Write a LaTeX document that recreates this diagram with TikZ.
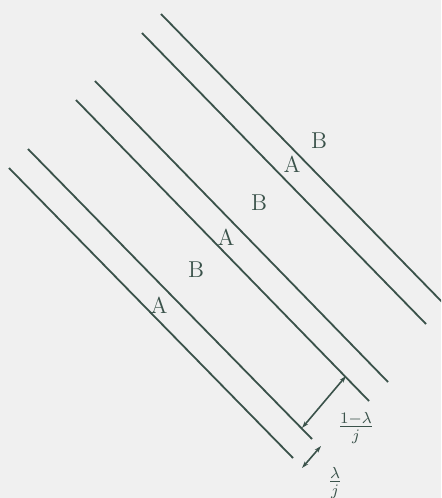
\documentclass[tikz,border=0pt]{standalone}
\usetikzlibrary{arrows.meta}
\definecolor{ink}{RGB}{58,82,74}
\definecolor{paper}{RGB}{240,240,240}
\tikzset{
  layer/.style={draw=ink, line width=0.9pt},
  gap/.style={draw=ink, line width=0.8pt, {Stealth[length=3.5pt,width=2.2pt]}-{Stealth[length=3.5pt,width=2.2pt]}},
  phase/.style={text=ink, font=\fontsize{11.5}{13}\selectfont, inner sep=0pt},
  width/.style={text=ink, font=\fontsize{11.5}{13}\selectfont, inner sep=0pt}
}
\begin{document}
\begin{tikzpicture}[x=0.5pt, y=-0.5pt]
		\clip (0,0) rectangle (441,498);
		\fill[paper] (0,0) rectangle (441,498);
		
		% Slabs
		\coordinate (l3a) at (9,168);   \coordinate (r3a) at (293,458);
		\coordinate (l3b) at (28,149);  \coordinate (r3b) at (312,439);
		\coordinate (l2a) at (76,100);  \coordinate (r2a) at (369,401);
		\coordinate (l2b) at (95,81);   \coordinate (r2b) at (388,382);
		\coordinate (l1a) at (142,33);  \coordinate (r1a) at (426,324);
		\coordinate (l1b) at (161,14);  \coordinate (r1b) at (445,305);
		\draw[layer] (l3a) -- (r3a);
		\draw[layer] (l3b) -- (r3b);
		\draw[layer] (l2a) -- (r2a);
		\draw[layer] (l2b) -- (r2b);
		\draw[layer] (l1a) -- (r1a);
		\draw[layer] (l1b) -- (r1b);
		
		% Phases
		\node[phase] (a3) at (159,305) {A};
		\node[phase] (b3) at (196,270) {B};
		\node[phase] (a2) at (226,237) {A};
		\node[phase] (b2) at (259,203) {B};
		\node[phase] (a1) at (292,164) {A};
		\node[phase] (b1) at (319,141) {B};
		
		% Widths
		\coordinate (wlo) at (302,428);
		\coordinate (whi) at (346,376);
		\draw[gap] (wlo) -- (whi);
		\node[width] (wbig) at (356,428) {$\frac{1-\lambda}{j}$};
		
		\coordinate (nlo) at (302,468);
		\coordinate (nhi) at (321,446);
		\draw[gap] (nlo) -- (nhi);
		\node[width] (wsmall) at (335,483) {$\frac{\lambda}{j}$};
	\end{tikzpicture}
\end{document}
